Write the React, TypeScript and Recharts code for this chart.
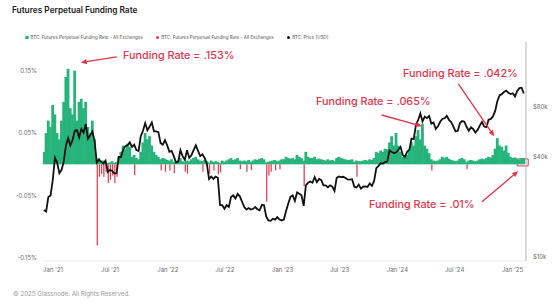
import {
  Bar,
  ComposedChart,
  Line,
  ReferenceArea,
  ReferenceLine,
  XAxis,
  YAxis,
} from "recharts";

const RED = "#e4344b";
const GREEN = "#27b47b";
const DAY = 24 * 3600 * 1000;
const WEEK = 7 * DAY;
const FIRST_WEEK = Date.UTC(2020, 11, 3);

// weekly BTC close, $k (Dec 2020 -> Feb 2025)
const priceK = [
  19.2, 18.8, 23.0, 23.5, 29.0,
  39.5, 37.0, 32.0, 33.5, 37.5, 47.0, 52.0, 47.0, 50.5, 57.5, 58.0, 52.5,
  59.0, 56.0, 63.0, 51.5, 54.0, 57.0, 50.0, 37.0, 38.5, 37.5, 36.5, 38.0, 32.5,
  33.5, 33.0, 31.8, 32.0, 40.0, 40.0, 44.5, 46.5, 47.0, 49.0, 46.0, 47.5, 44.0, 43.5,
  53.5, 57.5, 64.0, 58.0, 61.0, 64.5, 57.0, 57.0, 56.5, 48.5, 47.5, 50.5, 47.0,
  43.0, 43.5, 40.5, 37.0, 37.5, 44.0, 40.5, 38.5, 44.0, 39.5, 41.0, 44.0, 47.0,
  43.5, 40.5, 41.5, 39.5, 36.5, 29.5, 30.5, 29.5, 30.5, 30.0, 20.5, 20.5, 19.5,
  20.5, 20.0, 23.0, 23.5, 22.5, 24.0, 23.2, 21.5, 20.0, 19.3, 19.7, 19.3, 19.5,
  20.0, 19.4, 19.1, 20.6, 20.5, 17.5, 16.6, 16.5, 17.0, 16.8, 17.4, 16.8, 16.6,
  16.8, 18.9, 21.0, 23.0, 23.5, 21.8, 24.5, 24.0, 23.5, 20.3, 27.0, 28.0, 28.5,
  28.0, 30.3, 28.2, 29.5, 29.0, 27.0, 27.0, 26.3, 27.0, 26.5, 25.0, 30.0, 30.5,
  30.3, 30.4, 29.9, 29.3, 29.2, 29.4, 26.5, 26.2, 27.3, 25.8, 26.5, 26.6, 26.4,
  27.7, 26.8, 28.7, 34.3, 35.4, 36.7, 36.5, 37.3, 37.7, 43.8, 42.9, 42.2, 42.6,
  44.2, 46.0, 41.2, 39.9, 43.0, 44.3, 51.6, 51.3, 62.5, 66.8, 73.0, 65.5, 70.0,
  68.5, 70.6, 63.5, 64.5, 59.0, 61.2, 65.2, 67.8, 68.4, 70.8, 66.8, 65.0, 61.0,
  57.0, 57.5, 64.0, 65.8, 65.3, 60.8, 57.5, 60.3, 59.0, 56.2, 58.2, 61.8, 65.0,
  61.0, 60.5, 67.0, 67.8, 70.2, 75.8, 87.0, 94.0, 95.6, 98.5, 100.5, 97.5, 95.8,
  96.8, 92.5, 100.0, 104.0, 104.5, 96.5,
];

// weekly positive funding rate, %
const fundingUp = [
  0.02, 0.05, 0.07, 0.06, 0.095,
  0.08, 0.05, 0.04, 0.07, 0.1, 0.14, 0.153, 0.09, 0.08, 0.15, 0.07, 0.1,
  0.105, 0.09, 0.1, 0.06, 0.05, 0.07, 0.04, 0.008, 0.01, 0.004, 0.006, 0.003, 0.002,
  0.003, 0.005, 0.002, 0.004, 0.012, 0.02, 0.03, 0.025, 0.033, 0.028, 0.012, 0.015, 0.01, 0.008,
  0.02, 0.035, 0.05, 0.04, 0.045, 0.03, 0.02, 0.015, 0.012, 0.008, 0.01, 0.009, 0.007,
  0.006, 0.008, 0.004, 0.005, 0.006, 0.01, 0.005, 0.004, 0.006, 0.005, 0.008, 0.01, 0.012,
  0.008, 0.006, 0.005, 0.007, 0.005, 0.003, 0.006, 0.004, 0.005, 0.004, 0.002, 0.006, 0.004,
  0.006, 0.008, 0.01, 0.007, 0.008, 0.01, 0.006, 0.005, 0.006, 0.005, 0.007, 0.004, 0.006,
  0.008, 0.007, 0.009, 0.01, 0.008, 0.003, 0.004, 0.005, 0.006, 0.007, 0.005, 0.006, 0.008,
  0.008, 0.012, 0.01, 0.009, 0.01, 0.008, 0.015, 0.012, 0.01, 0.006, 0.02, 0.012, 0.01,
  0.01, 0.012, 0.008, 0.009, 0.008, 0.007, 0.006, 0.008, 0.006, 0.007, 0.005, 0.01, 0.012,
  0.01, 0.009, 0.008, 0.007, 0.007, 0.008, 0.004, 0.006, 0.005, 0.005, 0.006, 0.007, 0.006,
  0.008, 0.007, 0.01, 0.02, 0.018, 0.022, 0.02, 0.025, 0.024, 0.035, 0.045, 0.03, 0.05,
  0.03, 0.02, 0.012, 0.01, 0.015, 0.022, 0.035, 0.03, 0.045, 0.055, 0.04, 0.065, 0.03,
  0.025, 0.018, 0.008, 0.006, 0.005, 0.006, 0.008, 0.012, 0.01, 0.012, 0.009, 0.007, 0.006,
  0.005, 0.006, 0.009, 0.01, 0.008, 0.004, 0.006, 0.007, 0.006, 0.005, 0.006, 0.008, 0.009,
  0.008, 0.01, 0.012, 0.011, 0.015, 0.025, 0.042, 0.03, 0.028, 0.022, 0.03, 0.018, 0.012,
  0.01, 0.011, 0.009, 0.008, 0.01, 0.01,
];

// weeks with negative funding, %
const fundingDown: [string, number][] = [
  ["2021-05-20", -0.13], ["2021-05-27", -0.02], ["2021-06-03", -0.015],
  ["2021-06-10", -0.02], ["2021-06-17", -0.012], ["2021-06-24", -0.03],
  ["2021-07-01", -0.025], ["2021-07-08", -0.018], ["2021-07-15", -0.03],
  ["2021-07-22", -0.02], ["2021-09-16", -0.017], ["2021-12-09", -0.01],
  ["2021-12-23", -0.012], ["2022-01-06", -0.01], ["2022-01-20", -0.014],
  ["2022-02-24", -0.012], ["2022-03-03", -0.015], ["2022-04-21", -0.012],
  ["2022-05-12", -0.015], ["2022-05-26", -0.01], ["2022-06-09", -0.016],
  ["2022-06-16", -0.013], ["2022-08-18", -0.008], ["2022-09-08", -0.012],
  ["2022-09-22", -0.009], ["2022-11-10", -0.06], ["2022-11-17", -0.018],
  ["2022-11-24", -0.012], ["2022-12-08", -0.01], ["2022-12-22", -0.008],
  ["2023-03-09", -0.035], ["2023-08-24", -0.02], ["2024-04-18", -0.01],
  ["2024-08-08", -0.008],
];

const xTicks = [
  "2021-01-01", "2021-07-01", "2022-01-01", "2022-07-01", "2023-01-01",
  "2023-07-01", "2024-01-01", "2024-07-01", "2025-01-01",
];
const rateTicks = [-0.15, -0.05, 0.05, 0.15];
const priceTicks = [10000, 40000, 80000];

// callouts: text, arrow tail/head as [date, rate]
const callouts = [
  { text: "Funding Rate = .153%", left: 123, top: 49, from: ["2021-07-23", 0.172], to: ["2021-03-30", 0.163] },
  { text: "Funding Rate = .065%", left: 316, top: 95, from: ["2023-11-12", 0.079], to: ["2024-03-19", 0.061] },
  { text: "Funding Rate = .042%", left: 403, top: 67, from: ["2024-07-13", 0.129], to: ["2024-11-04", 0.045] },
  { text: "Funding Rate = .01%", left: 369, top: 198, from: ["2024-09-26", -0.06], to: ["2025-01-19", -0.011] },
];

const ts = (d: string) => Date.parse(d + "T00:00:00Z");
const X_DOMAIN = [ts("2020-11-30"), ts("2025-02-13")];

const downByWeek = new Map<number, number>();
fundingDown.forEach(([d, v]) => downByWeek.set(Math.round((ts(d) - FIRST_WEEK) / WEEK), v));

const data = priceK.map((p, i) => ({
  t: FIRST_WEEK + i * WEEK,
  price: p * 1000,
  up: fundingUp[i],
  down: downByWeek.get(i) ?? null,
}));

const MONTHS = ["Jan", "Feb", "Mar", "Apr", "May", "Jun", "Jul", "Aug", "Sep", "Oct", "Nov", "Dec"];
const fmtDate = (t: number) => {
  const d = new Date(t);
  return `${MONTHS[d.getUTCMonth()]} '${String(d.getUTCFullYear()).slice(2)}`;
};

const arrow = (props: any) => {
  const { x1, y1, x2, y2 } = props;
  const a = Math.atan2(y2 - y1, x2 - x1);
  const len = 6;
  const bx = x2 - len * Math.cos(a);
  const by = y2 - len * Math.sin(a);
  const px = 2.6 * Math.sin(a);
  const py = -2.6 * Math.cos(a);
  return (
    <g>
      <line x1={x1} y1={y1} x2={bx} y2={by} stroke={RED} strokeWidth={1.3} />
      <polygon points={`${x2},${y2} ${bx + px},${by + py} ${bx - px},${by - py}`} fill={RED} />
    </g>
  );
};

// weekly bars sit ~2px apart; widen each a little so the fill reads as one band
const wideBar = (props: any) => {
  const { x, y, width, height, fill } = props;
  if (!height) return <g />;
  return <rect x={x - 0.4} y={y} width={width + 0.8} height={height} fill={fill} />;
};

const tickStyle = { fontSize: 6, fill: "#6b6b6b", fontFamily: "Inter, sans-serif" };

function LegendItem({ color, label }: { color: string; label: string }) {
  return (
    <span style={{ display: "inline-flex", alignItems: "center", marginRight: 13 }}>
      <span style={{ width: 3.5, height: 3.5, borderRadius: 2, background: color, marginRight: 2 }} />
      {label}
    </span>
  );
}

export default function App() {
  return (
    <div
      style={{
        position: "absolute",
        left: 0,
        top: 0,
        width: 555,
        height: 304,
        background: "#fff",
        fontFamily: "Inter, sans-serif",
        overflow: "hidden",
      }}
    >
      <ComposedChart
        width={555}
        height={304}
        data={data}
        barCategoryGap={0}
        margin={{ top: 42, right: 4, bottom: 23, left: 5 }}
        style={{ position: "absolute", left: 0, top: 0 }}
      >
        <XAxis
          dataKey="t"
          type="number"
          domain={X_DOMAIN}
          allowDataOverflow
          ticks={xTicks.map(ts)}
          tickFormatter={fmtDate}
          tick={tickStyle}
          tickSize={0}
          tickMargin={7}
          height={20}
          axisLine={{ stroke: "#ececec" }}
        />
        {/* second time axis so the red spikes get their own (thinner) bar width */}
        <XAxis xAxisId="neg" dataKey="t" type="number" domain={X_DOMAIN} allowDataOverflow hide />
        <YAxis
          yAxisId="rate"
          domain={[-0.155, 0.196]}
          allowDataOverflow
          ticks={rateTicks}
          tickFormatter={(v: number) => `${v.toFixed(2)}%`}
          tick={tickStyle}
          tickSize={0}
          tickMargin={6}
          width={38}
          axisLine={false}
        />
        <YAxis
          yAxisId="price"
          orientation="right"
          scale="log"
          domain={[9460, 197000]}
          allowDataOverflow
          ticks={priceTicks}
          tickFormatter={(v: number) => `$${v / 1000}k`}
          tick={tickStyle}
          tickSize={0}
          tickMargin={7}
          width={25}
          axisLine={{ stroke: "#b5b5b5" }}
        />
        <Bar yAxisId="rate" dataKey="up" fill={GREEN} shape={wideBar} isAnimationActive={false} />
        <Bar yAxisId="rate" xAxisId="neg" dataKey="down" fill={RED} barSize={1.2} isAnimationActive={false} />
        <Line
          yAxisId="price"
          dataKey="price"
          type="linear"
          stroke="#111"
          strokeWidth={1.8}
          dot={false}
          isAnimationActive={false}
        />
        {callouts.map((c) => (
          <ReferenceLine
            key={c.text}
            yAxisId="rate"
            ifOverflow="visible"
            segment={[
              { x: ts(c.from[0] as string), y: c.from[1] as number },
              { x: ts(c.to[0] as string), y: c.to[1] as number },
            ]}
            shape={arrow}
          />
        ))}
        <ReferenceArea
          yAxisId="rate"
          x1={ts("2025-01-16")}
          x2={ts("2025-02-20")}
          y1={-0.0026}
          y2={0.0086}
          fill="none"
          stroke={RED}
          strokeWidth={1}
          ifOverflow="visible"
        />
      </ComposedChart>

      <div style={{ position: "absolute", left: 12, top: 5, fontSize: 8.3, fontWeight: 600, color: "#1d1d1d" }}>
        Futures Perpetual Funding Rate
      </div>
      <div
        style={{
          position: "absolute",
          left: 25,
          top: 35,
          fontSize: 4.5,
          color: "#555",
          display: "flex",
          whiteSpace: "nowrap",
        }}
      >
        <LegendItem color={GREEN} label="BTC: Futures Perpetual Funding Rate - All Exchanges" />
        <LegendItem color={RED} label="BTC: Futures Perpetual Funding Rate - All Exchanges" />
        <LegendItem color="#111" label="BTC: Price [USD]" />
      </div>
      {callouts.map((c) => (
        <div
          key={c.text}
          style={{ position: "absolute", left: c.left, top: c.top, fontSize: 10.8, fontWeight: 500, color: RED, whiteSpace: "nowrap" }}
        >
          {c.text}
        </div>
      ))}
      <div style={{ position: "absolute", left: 13, top: 290, fontSize: 6.2, color: "#999" }}>
        © 2025 Glassnode. All Rights Reserved.
      </div>
    </div>
  );
}
